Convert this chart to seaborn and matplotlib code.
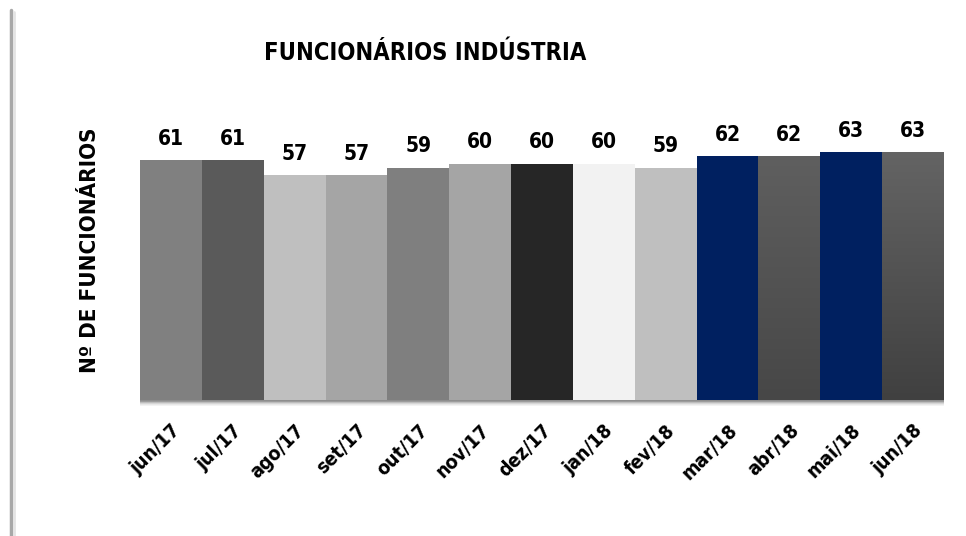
import numpy as np
import pandas as pd
import matplotlib.pyplot as plt
import seaborn as sns
from matplotlib.patches import Rectangle
from matplotlib.lines import Line2D

# data
months = ['jun/17', 'jul/17', 'ago/17', 'set/17', 'out/17', 'nov/17', 'dez/17',
          'jan/18', 'fev/18', 'mar/18', 'abr/18', 'mai/18', 'jun/18']
employees = [61, 61, 57, 57, 59, 60, 60, 60, 59, 62, 62, 63, 63]
bar_colors = ['#808080', '#5a5a5a', '#bfbfbf', '#a5a5a5', '#7f7f7f', '#a5a5a5', '#262626',
              '#f2f2f2', '#bfbfbf', '#002060', '#555555', '#002060', '#535353']
# bars drawn with a top-to-bottom gradient: (top, bottom)
gradients = {'abr/18': ('#5f5f5f', '#474747'), 'jun/18': ('#646464', '#404040')}

df = pd.DataFrame({'mes': months, 'func': employees})

sns.set_theme(style='white')
plt.rcParams['font.family'] = ['DejaVu Sans', 'Liberation Sans']
plt.rcParams['font.stretch'] = 'condensed'
plt.rcParams['font.weight'] = 'bold'
plt.rcParams['text.color'] = 'black'
plt.rcParams['xtick.color'] = 'black'

fig = plt.figure(figsize=(9.66, 5.36), dpi=100)
ax = fig.add_axes([140 / 966, 136 / 536, 804 / 966, 300 / 536])

sns.barplot(data=df, x='mes', y='func', hue='mes', palette=bar_colors,
            legend=False, width=1.0, saturation=1, linewidth=0, ax=ax)
ax.set_ylim(0, 300 / 3.94)
ax.set_xlim(-0.5, len(months) - 0.5)

# gradient fill for some bars
for patch, m in zip(ax.patches, months):
    if m in gradients:
        top, bot = gradients[m]
        cmap = sns.blend_palette([bot, top], as_cmap=True)
        x0, y0 = patch.get_x(), patch.get_y()
        w, h = patch.get_width(), patch.get_height()
        grad = np.linspace(0, 1, 256).reshape(-1, 1)
        im = ax.imshow(grad, cmap=cmap, origin='lower', aspect='auto',
                       extent=[x0, x0 + w, y0, y0 + h], zorder=patch.get_zorder() + 0.1)
        im.set_clip_path(patch)

# value labels
for i, v in enumerate(employees):
    ax.annotate(str(v), (i, v), xytext=(0, 8), textcoords='offset points',
                ha='center', va='bottom', fontsize=15, fontweight='bold', color='black')

# soft shadow under the bars
px = 1 / 300
for k, c in enumerate(['#8e8e8e', '#9c9c9c', '#bdbdbd', '#d6d6d6', '#e8e8e8', '#f3f3f3']):
    ax.add_patch(Rectangle((-0.5, -(k + 1) * px), len(months), px,
                           transform=ax.get_xaxis_transform(), color=c,
                           clip_on=False, zorder=1, lw=0))

sns.despine(ax=ax, left=True, bottom=True)
ax.set_yticks([])
ax.set_xlabel('')
ax.set_ylabel('')
ax.tick_params(axis='x', length=0, pad=15)
plt.setp(ax.get_xticklabels(), rotation=45, ha='right', rotation_mode='anchor',
         fontsize=14, fontweight='bold', color='black')

fig.text(90 / 966, 1 - 250 / 536, 'Nº DE FUNCIONÁRIOS', rotation=90, ha='center', va='center',
         fontsize=16, fontweight='bold')
fig.text(425 / 966, 1 - 53 / 536, 'FUNCIONÁRIOS INDÚSTRIA', ha='center', va='center',
         fontsize=17, fontweight='bold')

# left border line
fig.add_artist(Line2D([11 / 966, 11 / 966], [0, 1 - 10 / 536], color='#a8a8a8', lw=2.5))
fig.add_artist(Line2D([13.5 / 966, 13.5 / 966], [0, 1 - 12 / 536], color='#e4e4e4', lw=2))

fig.savefig('out.png', dpi=100)
